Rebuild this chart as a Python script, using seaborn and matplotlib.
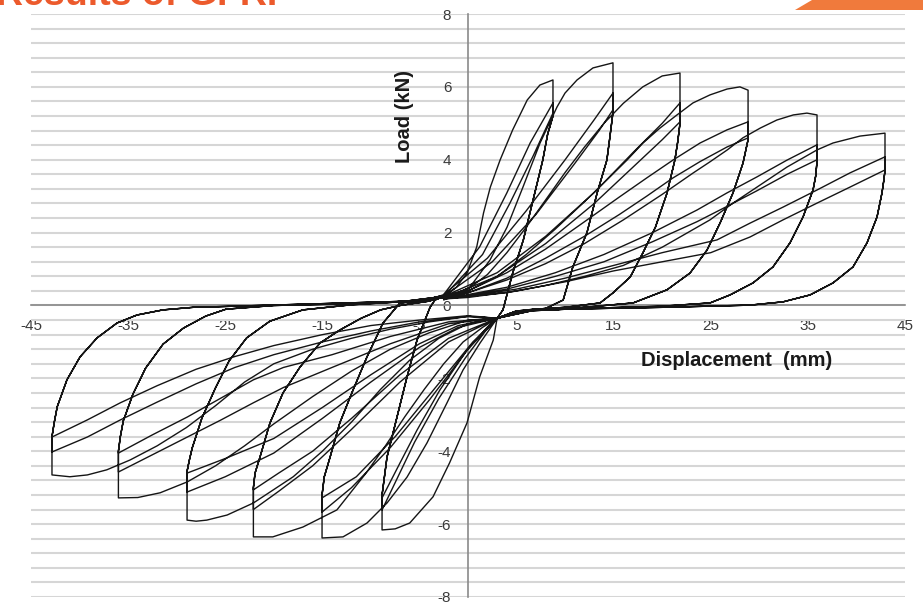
import numpy as np
import pandas as pd
import matplotlib
matplotlib.use("Agg")
import matplotlib.pyplot as plt
import seaborn as sns
from matplotlib.patches import Polygon

# ---- data: (displacement mm, load kN) ----
# each level: three loading branches to the + peak, shared unloading,
# three loading branches to the - peak, shared unloading

L1_up = [
    ([-2.5, -1.2, -0.1, 0.9, 1.6, 2.3, 3.3, 4.6, 6.1, 7.4, 8.75], [0.25, 0.5, 0.89, 1.61, 2.54, 3.25, 3.99, 4.82, 5.64, 6.05, 6.19]),
    ([-2.5, 1.2, 4.0, 6.4, 8.75], [0.3, 1.61, 3.09, 4.46, 5.56]),
    ([-2.5, 1.5, 4.3, 6.7, 8.75], [0.25, 1.40, 2.80, 4.10, 5.28]),
]
L1_up_back = ([8.75, 8.2, 7.7, 6.7, 5.7, 4.6, 3.6, 3.0], [5.2, 4.7, 3.99, 2.90, 1.80, 0.89, -0.12, -0.35])
L1_dn = [
    ([3.0, 2.6, 1.2, -0.1, -1.9, -3.6, -6.0, -7.5, -8.85], [-0.35, -0.95, -1.96, -3.22, -4.32, -5.25, -5.97, -6.13, -6.16]),
    ([3.0, 1.8, -0.3, -3.0, -5.5, -7.3, -8.85], [-0.35, -0.7, -1.45, -2.55, -3.75, -4.75, -5.61]),
    ([3.0, 2.0, -0.1, -2.9, -5.25, -7.0, -8.85], [-0.35, -0.59, -1.22, -2.32, -3.42, -4.32, -5.28]),
]
L1_dn_back = ([-8.85, -8.6, -8.34, -7.31, -6.28, -5.25, -3.91, -3.4, -2.5], [-5.2, -4.7, -4.16, -3.06, -1.96, -0.95, -0.05, 0.15, 0.25])

L2_up = [
    ([-2.5, 0.21, 2.27, 4.02, 5.66, 7.42, 9.17, 9.99, 11.23, 12.87, 14.93], [0.15, 0.51, 1.25, 2.15, 3.25, 4.46, 5.45, 5.83, 6.19, 6.52, 6.66]),
    ([-2.5, 2.0, 6.0, 10.0, 13.0, 14.93], [0.3, 1.3, 2.6, 4.0, 5.1, 5.83]),
    ([-2.5, 2.5, 7.0, 11.0, 13.5, 14.93], [0.25, 1.2, 2.5, 3.9, 4.8, 5.37]),
]
L2_up_back = ([14.93, 14.6, 14.3, 13.3, 12.25, 10.8, 9.8, 8.0, 5.0, 3.0], [5.3, 4.6, 3.99, 3.09, 2.0, 1.06, 0.15, -0.08, -0.15, -0.35])
L2_dn = [
    ([3.0, 1.24, -0.51, -2.16, -4.22, -6.28, -8.34, -10.40, -12.87, -15.03], [-0.35, -1.03, -1.77, -2.67, -3.77, -4.71, -5.42, -5.97, -6.35, -6.38]),
    ([3.0, 0.0, -4.0, -8.0, -12.0, -15.03], [-0.35, -1.2, -2.6, -3.9, -5.0, -5.67]),
    ([3.0, 0.5, -3.5, -7.5, -11.5, -15.03], [-0.35, -1.0, -2.3, -3.6, -4.7, -5.28]),
]
L2_dn_back = ([-15.03, -14.8, -14.2, -13.2, -11.84, -10.4, -8.75, -7.0, -5.0, -3.0], [-5.2, -4.7, -4.16, -3.22, -2.32, -1.41, -0.48, 0.07, 0.12, 0.25])

L3_up = [
    ([-2.5, 0.0, 2.0, 4.0, 6.0, 8.0, 10.0, 12.0, 14.0, 16.0, 18.0, 20.0, 21.83], [0.25, 0.45, 0.85, 1.45, 2.15, 2.9, 3.65, 4.35, 5.0, 5.55, 6.0, 6.3, 6.38]),
    ([-2.5, 3.0, 8.0, 13.0, 17.0, 20.0, 21.83], [0.25, 0.9, 1.9, 3.1, 4.2, 5.0, 5.56]),
    ([-2.5, 3.0, 8.0, 13.0, 17.0, 20.0, 21.83], [0.2, 0.8, 1.7, 2.8, 3.8, 4.55, 5.04]),
]
L3_up_back = ([21.83, 21.6, 21.3, 20.5, 19.3, 18.0, 16.7, 14.9, 13.6, 10.0, 6.0, 3.0], [5.0, 4.5, 3.99, 3.09, 2.15, 1.44, 0.78, 0.34, 0.07, -0.05, -0.12, -0.35])
L3_dn = [
    ([3.0, 1.5, -0.5, -2.5, -4.5, -6.5, -8.5, -10.5, -13.5, -17.0, -20.1, -22.1], [-0.35, -0.6, -1.0, -1.6, -2.3, -3.05, -3.85, -4.6, -5.61, -6.08, -6.35, -6.35]),
    ([3.0, -2.0, -7.0, -12.0, -16.0, -19.5, -22.1], [-0.35, -1.0, -2.1, -3.4, -4.4, -5.1, -5.6]),
    ([3.0, -2.0, -7.0, -12.0, -16.0, -19.5, -22.1], [-0.35, -0.9, -1.9, -3.1, -4.0, -4.6, -5.06]),
]
L3_dn_back = ([-22.1, -21.93, -21.42, -20.39, -19.05, -17.3, -15.24, -13.18, -11.0, -9.0, -7.0, -4.0, -2.5], [-5.0, -4.6, -4.16, -3.22, -2.40, -1.69, -1.03, -0.67, -0.35, -0.12, 0.0, 0.12, 0.25])

L4_up = [
    ([-2.5, 0.0, 3.0, 6.0, 9.0, 12.0, 14.62, 16.37, 18.02, 19.77, 21.52, 23.17, 24.92, 26.67, 28.0, 28.84], [0.25, 0.4, 0.8, 1.4, 2.1, 2.85, 3.53, 3.99, 4.46, 4.87, 5.23, 5.56, 5.78, 5.94, 6.0, 5.91]),
    ([-2.5, 0.0, 4.0, 8.0, 12.0, 15.6, 18.4, 21.1, 23.9, 26.67, 28.84], [0.2, 0.4, 0.9, 1.55, 2.3, 2.98, 3.50, 3.99, 4.46, 4.82, 5.04]),
    ([-2.5, 0.0, 4.0, 8.0, 12.0, 15.6, 18.4, 21.1, 23.9, 26.67, 28.84], [0.2, 0.35, 0.75, 1.3, 1.9, 2.5, 3.0, 3.5, 3.95, 4.35, 4.6]),
]
L4_up_back = ([28.84, 28.6, 28.32, 27.29, 25.95, 24.61, 22.86, 20.49, 17.0, 12.0, 7.0, 3.0], [4.55, 4.25, 3.91, 3.09, 2.26, 1.52, 0.89, 0.43, 0.07, -0.05, -0.12, -0.35])
L4_dn = [
    ([3.0, 0.0, -3.0, -6.0, -9.0, -12.0, -15.0, -18.0, -22.1, -24.8, -26.9, -28.0, -28.93], [-0.35, -0.5, -0.9, -1.5, -2.3, -3.2, -4.0, -4.7, -5.42, -5.75, -5.89, -5.92, -5.89]),
    ([3.0, -1.0, -5.0, -10.0, -15.0, -20.0, -25.0, -28.93], [-0.35, -0.6, -1.15, -2.1, -3.1, -4.05, -4.7, -5.12]),
    ([3.0, -1.0, -5.0, -10.0, -15.0, -20.0, -25.0, -28.93], [-0.35, -0.55, -1.05, -1.9, -2.8, -3.65, -4.2, -4.6]),
]
L4_dn_back = ([-28.93, -28.7, -28.4, -27.4, -26.0, -24.6, -22.8, -20.4, -17.0, -12.0, -7.0, -2.5], [-4.55, -4.25, -3.91, -3.09, -2.26, -1.52, -0.89, -0.43, -0.12, 0.02, 0.1, 0.25])

L5_up = [
    ([-2.5, 0.0, 4.0, 8.0, 12.0, 16.0, 20.0, 23.2, 24.9, 26.7, 28.3, 30.1, 31.8, 33.5, 34.9, 35.94], [0.2, 0.35, 0.7, 1.15, 1.7, 2.35, 3.05, 3.64, 3.94, 4.27, 4.60, 4.87, 5.09, 5.23, 5.28, 5.23]),
    ([-2.5, 0.0, 4.0, 9.0, 14.0, 19.0, 23.58, 26.67, 29.76, 32.85, 35.94], [0.18, 0.3, 0.5, 0.9, 1.4, 2.0, 2.62, 3.09, 3.53, 3.99, 4.41]),
    ([-2.5, 0.0, 4.0, 9.0, 14.0, 19.0, 23.58, 26.67, 29.76, 32.85, 35.94], [0.18, 0.28, 0.45, 0.8, 1.2, 1.75, 2.3, 2.72, 3.15, 3.6, 4.0]),
]
L5_up_back = ([35.94, 35.8, 35.53, 34.5, 33.16, 31.41, 29.35, 26.98, 24.92, 20.0, 12.0, 6.0, 3.0], [3.95, 3.55, 3.17, 2.43, 1.72, 1.06, 0.62, 0.29, 0.07, -0.02, -0.08, -0.15, -0.35])
L5_dn = [
    ([3.0, 0.0, -4.0, -8.0, -12.0, -16.0, -20.0, -23.0, -26.0, -28.9, -31.7, -34.0, -36.0], [-0.35, -0.4, -0.75, -1.2, -1.8, -2.5, -3.25, -3.85, -4.4, -4.84, -5.14, -5.27, -5.28]),
    ([3.0, -2.0, -8.0, -14.0, -19.0, -22.1, -25.5, -28.9, -32.5, -36.0], [-0.35, -0.5, -1.05, -1.7, -2.25, -2.67, -3.15, -3.61, -4.1, -4.57]),
    ([3.0, -2.0, -8.0, -14.0, -19.0, -22.1, -25.5, -28.9, -32.5, -36.0], [-0.35, -0.45, -0.85, -1.35, -1.7, -2.04, -2.55, -3.06, -3.55, -4.05]),
]
L5_dn_back = ([-36.0, -35.8, -35.5, -34.5, -33.2, -31.4, -29.3, -27.0, -24.9, -20.0, -12.0, -6.0, -2.5], [-4.0, -3.6, -3.17, -2.43, -1.72, -1.06, -0.62, -0.29, -0.1, 0.0, 0.05, 0.12, 0.22])

L6_up = [
    ([-2.5, 0.0, 4.0, 8.0, 12.0, 16.0, 20.0, 24.92, 27.29, 29.76, 32.85, 35.94, 37.59, 40.37, 42.94], [0.2, 0.25, 0.35, 0.55, 0.8, 1.1, 1.6, 2.35, 2.81, 3.25, 3.80, 4.27, 4.46, 4.65, 4.73]),
    ([-2.5, 0.0, 5.0, 10.0, 15.0, 20.0, 25.64, 29.04, 32.44, 35.94, 39.34, 42.94], [0.18, 0.25, 0.45, 0.75, 1.1, 1.45, 1.80, 2.26, 2.70, 3.17, 3.64, 4.08]),
    ([-2.5, 0.0, 5.0, 10.0, 15.0, 20.0, 25.0, 29.04, 32.44, 35.94, 39.34, 42.94], [0.18, 0.22, 0.4, 0.65, 0.95, 1.2, 1.45, 1.88, 2.35, 2.81, 3.25, 3.72]),
]
L6_up_back = ([42.94, 42.8, 42.63, 42.12, 41.09, 39.65, 37.59, 35.22, 32.44, 29.04, 20.0, 10.0, 5.0, 3.0], [3.7, 3.4, 3.09, 2.43, 1.72, 1.06, 0.62, 0.29, 0.10, 0.01, -0.05, -0.1, -0.15, -0.35])
L6_dn = [
    ([3.0, 0.0, -4.0, -8.0, -12.0, -16.0, -20.0, -23.0, -26.0, -29.0, -32.0, -34.8, -37.2, -39.2, -41.0, -42.84], [-0.35, -0.3, -0.45, -0.65, -0.9, -1.2, -1.6, -2.1, -2.75, -3.35, -3.85, -4.24, -4.51, -4.65, -4.7, -4.65]),
    ([3.0, 0.0, -5.0, -10.0, -15.0, -20.0, -24.0, -28.0, -32.0, -35.8, -39.2, -42.84], [-0.35, -0.3, -0.45, -0.7, -1.0, -1.35, -1.7, -2.15, -2.65, -3.14, -3.61, -4.02]),
    ([3.0, 0.0, -5.0, -10.0, -15.0, -20.0, -24.0, -28.0, -32.0, -35.8, -39.2, -42.84], [-0.35, -0.28, -0.4, -0.55, -0.8, -1.1, -1.4, -1.75, -2.2, -2.67, -3.14, -3.61]),
]
L6_dn_back = ([-42.84, -42.6, -42.3, -41.3, -39.95, -38.2, -36.14, -34.08, -31.4, -28.3, -25.5, -15.0, -6.0, -2.5], [-3.6, -3.2, -2.78, -2.04, -1.41, -0.89, -0.48, -0.26, -0.12, -0.05, -0.03, 0.05, 0.12, 0.22])

levels = [
    (L1_up, L1_up_back, L1_dn, L1_dn_back),
    (L2_up, L2_up_back, L2_dn, L2_dn_back),
    (L3_up, L3_up_back, L3_dn, L3_dn_back),
    (L4_up, L4_up_back, L4_dn, L4_dn_back),
    (L5_up, L5_up_back, L5_dn, L5_dn_back),
    (L6_up, L6_up_back, L6_dn, L6_dn_back),
]

x_ticks = [-45, -35, -25, -15, -5, 5, 15, 25, 35, 45]
y_ticks = [-8, -6, -4, -2, 0, 2, 4, 6, 8]

# build one continuous test path
xs, ys = [], []
for up, up_back, dn, dn_back in levels:
    for k in range(3):
        for seg in (up[k], up_back, dn[k], dn_back):
            xs += seg[0]
            ys += seg[1]
df = pd.DataFrame({"disp": xs, "load": ys})

sns.set_style("white")
plt.rcParams["font.family"] = ["Liberation Sans", "DejaVu Sans"]
plt.rcParams["axes.unicode_minus"] = False

fig = plt.figure(figsize=(9.23, 6.07), dpi=100)
ax = fig.add_axes([31 / 923, 1 - 597 / 607, 874 / 923, 583 / 607])

# light horizontal grid every 0.4 kN
ax.set_yticks(np.arange(-8, 8.01, 0.4), minor=True)
ax.grid(axis="y", which="both", color="#d6d6d6", lw=1.5)
ax.set_axisbelow(True)

sns.lineplot(data=df, x="disp", y="load", sort=False, estimator=None,
             color="#151515", lw=1.0, ax=ax)

ax.set_xlim(-45, 45)
ax.set_ylim(-8, 8)
ax.set_xticks(x_ticks)
ax.set_yticks(y_ticks)
ax.set_xlabel("")
ax.set_ylabel("")
for s in ("top", "right"):
    ax.spines[s].set_visible(False)
ax.spines["left"].set_position(("data", 0))
ax.spines["bottom"].set_position(("data", 0))
for s in ("left", "bottom"):
    ax.spines[s].set_color("#8a8a8a")
    ax.spines[s].set_linewidth(1.2)
    ax.spines[s].set_zorder(1)
ax.tick_params(which="major", direction="inout", length=8, width=1, color="#8a8a8a",
               labelsize=11, labelcolor="#3a3a3a")
ax.tick_params(axis="x", pad=6)
ax.tick_params(axis="y", pad=8)
ax.tick_params(which="minor", length=0)

fig.text(405 / 923, 1 - 116 / 607, "Load (kN)", rotation=90, ha="center", va="center",
         fontsize=14.5, fontweight="bold", color="#1a1a1a")
fig.text(737 / 923, 1 - 360 / 607, "Displacement  (mm)", ha="center", va="center",
         fontsize=14.5, fontweight="bold", color="#1a1a1a")

# slide remnants at the top edge (title mostly above the crop)
fig.text(-0.004, 1 - 5 / 607, "Results of GFRP", ha="left", va="baseline",
         fontsize=27, fontweight="bold", color="#ec5a2c")
fig.patches.append(Polygon([[795 / 923, 1 - 10 / 607], [812 / 923, 1.0], [1.0, 1.0], [1.0, 1 - 10 / 607]],
                           closed=True, transform=fig.transFigure, facecolor="#f07a3c", edgecolor="none"))

fig.savefig("out.png", dpi=100)
